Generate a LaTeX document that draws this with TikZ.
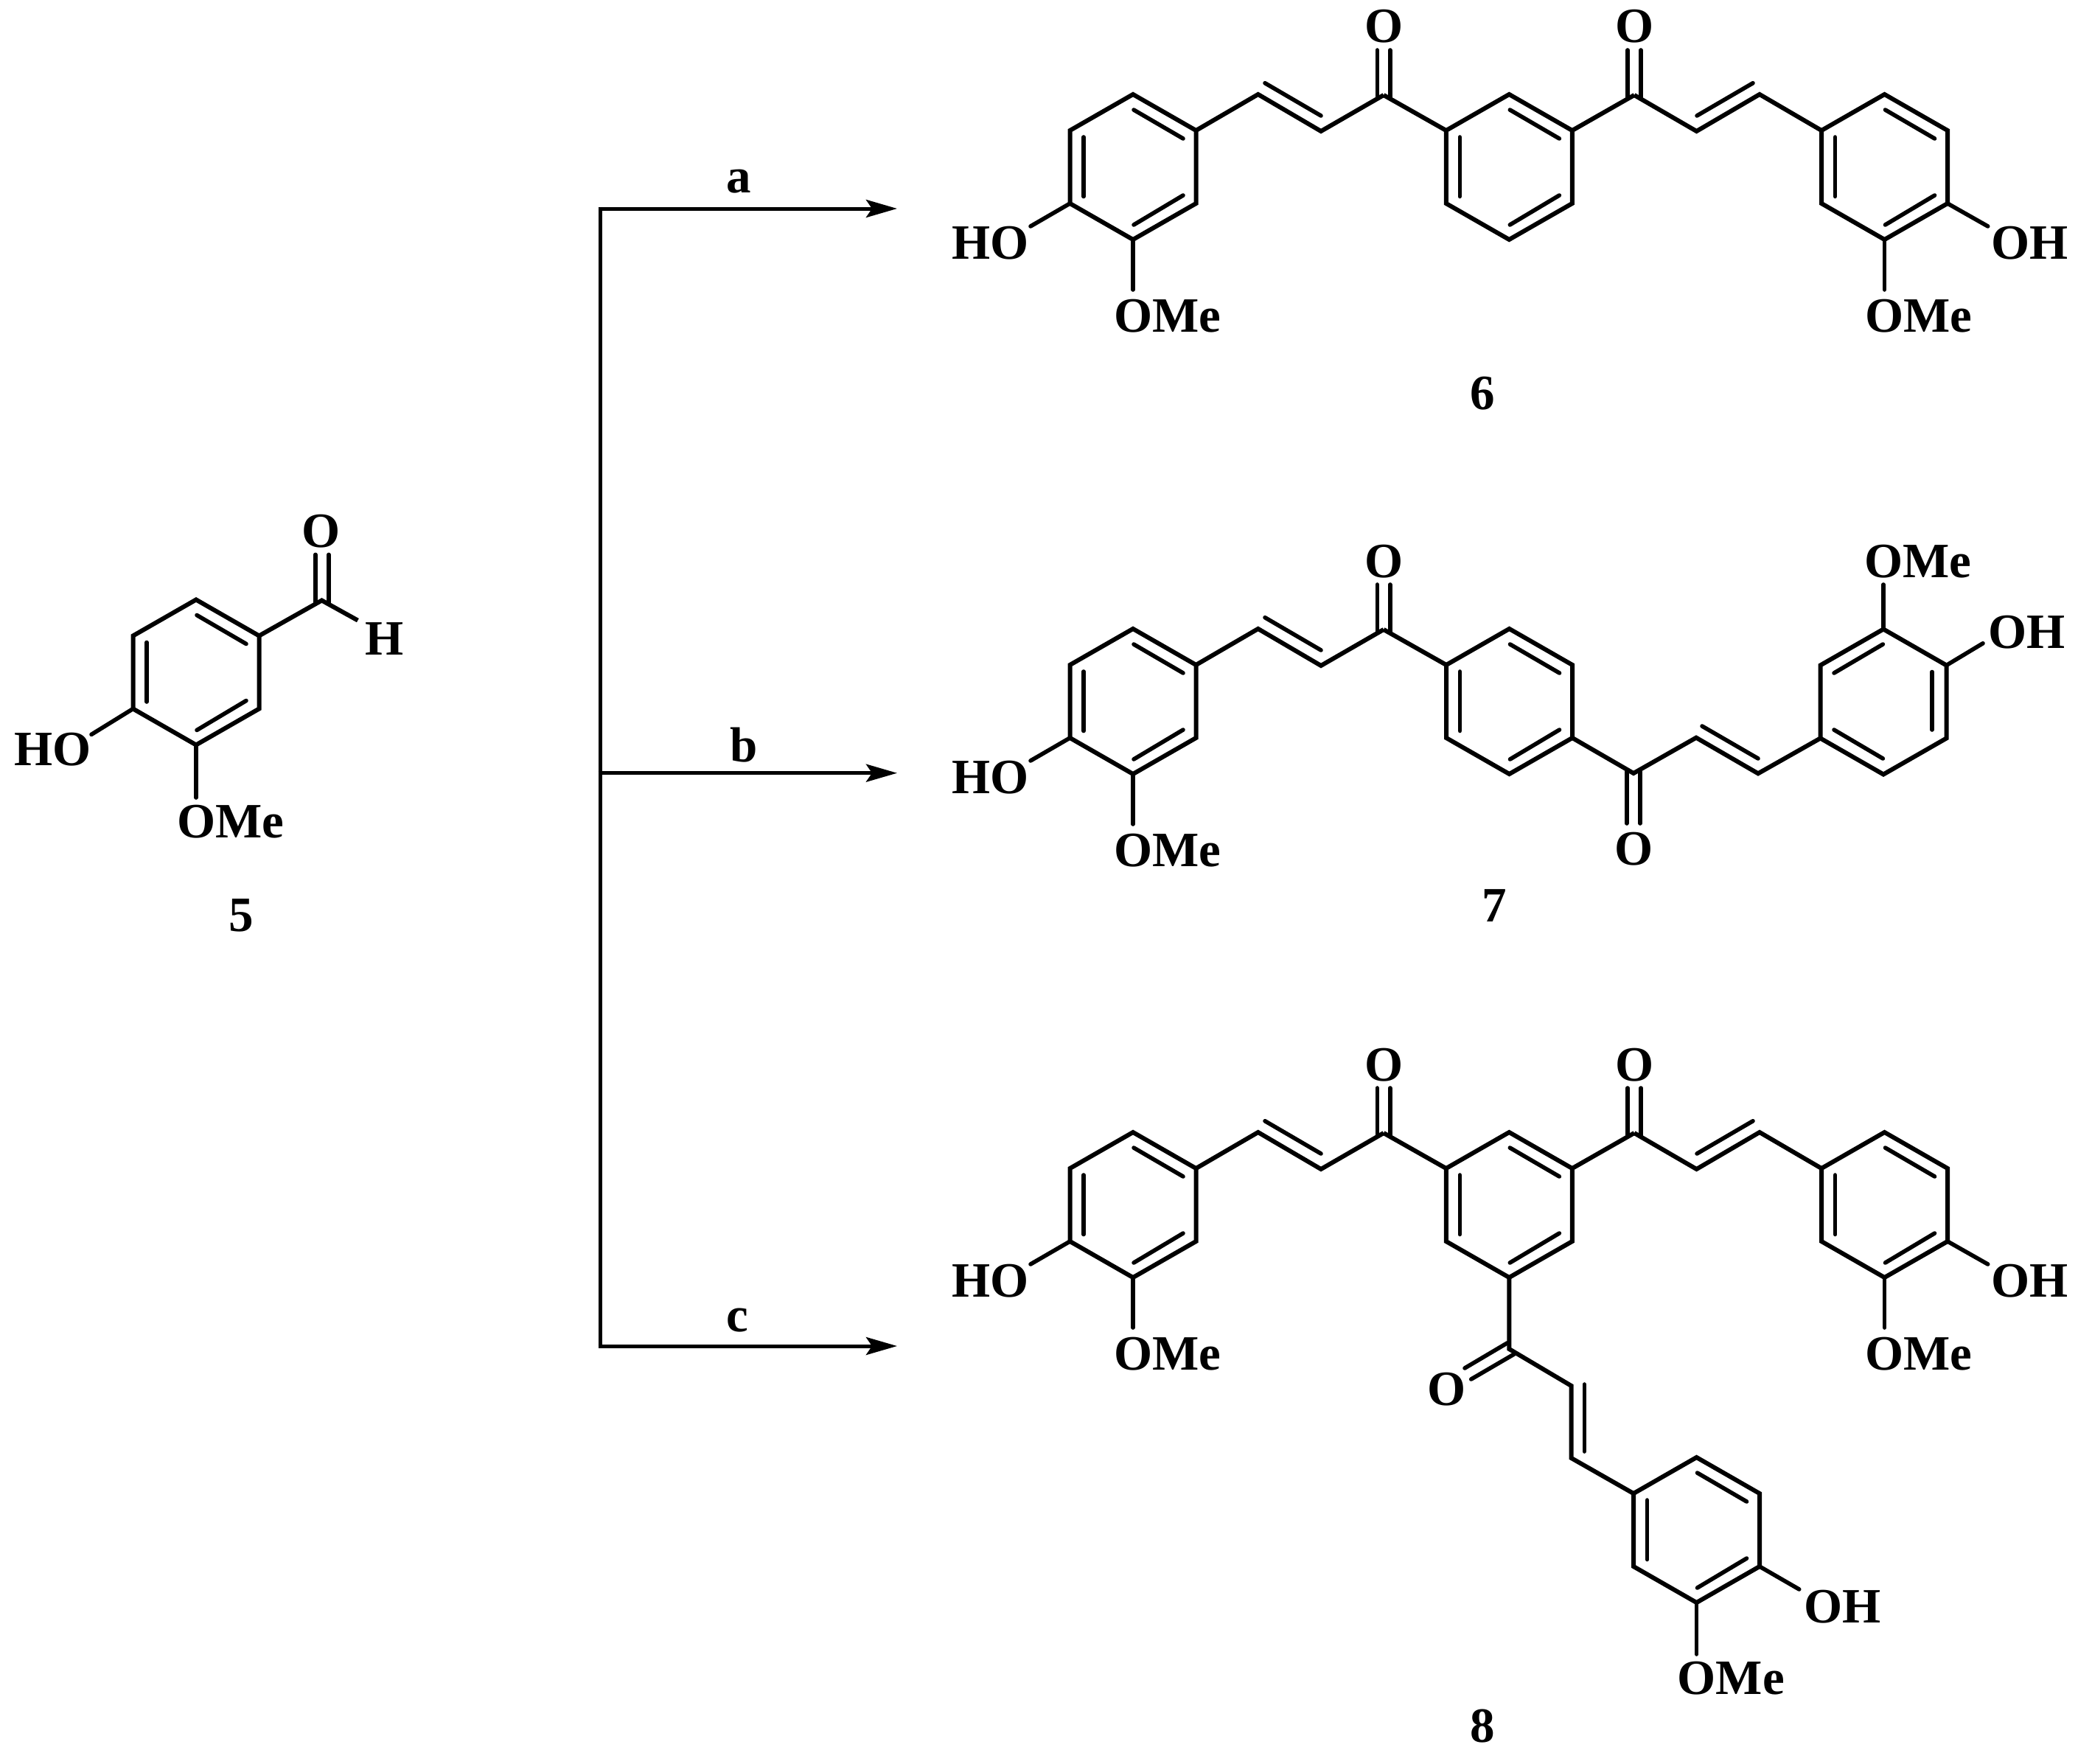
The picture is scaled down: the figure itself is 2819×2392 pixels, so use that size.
\documentclass[tikz,border=0pt]{standalone}
\usepackage{fontspec}
\setmainfont{Liberation Serif}
\usetikzlibrary{arrows.meta}
\tikzset{
  bond/.style={line width=3pt,line join=miter,miter limit=10},
  subbond/.style={line width=2.8pt,line cap=round},
  inbond/.style={line width=2.8pt,line cap=round},
  dblbond/.style={line width=2.8pt,line cap=round},
  route/.style={line width=2.5pt},
  routearrow/.style={line width=2.5pt,-{Stealth[length=21pt,width=12pt,inset=4pt]}},
  lbl/.style={inner sep=0pt,outer sep=0pt,anchor=base west,font=\fontsize{33.5}{40}\selectfont\bfseries},
  numlbl/.style={inner sep=0pt,outer sep=0pt,anchor=base,font=\fontsize{33.5}{40}\selectfont\bfseries}
}
% ring with inner bonds T-TR, left, B-BR
\newcommand{\arylA}[3]{\begin{scope}[shift={(#2,#3)}]
  \coordinate (#1T) at (0,-98.5);
  \coordinate (#1TR) at (85.5,-49.5);
  \coordinate (#1BR) at (85.5,49.5);
  \coordinate (#1B) at (0,98.5);
  \coordinate (#1BL) at (-85.5,49.5);
  \coordinate (#1TL) at (-85.5,-49.5);
  \coordinate (#1ia) at (1,-77.5);
  \coordinate (#1ib) at (68,-38.5);
  \coordinate (#1ic) at (-67,-40.5);
  \coordinate (#1id) at (-67,40);
  \coordinate (#1ie) at (1,78.5);
  \coordinate (#1if) at (68,38.5);
  \draw[bond] (#1T)--(#1TR)--(#1BR)--(#1B)--(#1BL)--(#1TL)--cycle;
  \draw[inbond] (#1ia)--(#1ib);
  \draw[inbond] (#1ic)--(#1id);
  \draw[inbond] (#1ie)--(#1if);
\end{scope}}
% mirrored ring: inner bonds T-TL, right, B-BL
\newcommand{\arylB}[3]{\begin{scope}[shift={(#2,#3)}]
  \coordinate (#1T) at (0,-98.5);
  \coordinate (#1TR) at (85.5,-49.5);
  \coordinate (#1BR) at (85.5,49.5);
  \coordinate (#1B) at (0,98.5);
  \coordinate (#1BL) at (-85.5,49.5);
  \coordinate (#1TL) at (-85.5,-49.5);
  \coordinate (#1ia) at (-0.7,-78);
  \coordinate (#1ib) at (-67,-39);
  \coordinate (#1ic) at (66,-40.5);
  \coordinate (#1id) at (66,38);
  \coordinate (#1ie) at (-0.7,77);
  \coordinate (#1if) at (-67,38);
  \draw[bond] (#1T)--(#1TR)--(#1BR)--(#1B)--(#1BL)--(#1TL)--cycle;
  \draw[inbond] (#1ia)--(#1ib);
  \draw[inbond] (#1ic)--(#1id);
  \draw[inbond] (#1ie)--(#1if);
\end{scope}}
% left arm: HO/OMe ring, vinyl, carbonyl; #2 is vertical shift
\newcommand{\leftarm}[2]{
  \arylA{#1r}{1537}{226.5+#2}
  \begin{scope}[yshift=-#2*0.5pt]
  \coordinate (#1v) at (1706.7,128);
  \coordinate (#1w) at (1792,178);
  \coordinate (#1c) at (1877,129);
  \coordinate (#1va) at (1716,112.7);
  \coordinate (#1vb) at (1792,157);
  \coordinate (#1oa) at (1868.3,68);
  \coordinate (#1ob) at (1868.3,133);
  \coordinate (#1oc) at (1885.7,68);
  \coordinate (#1od) at (1885.7,133);
  \coordinate (#1he) at (1398,307);
  \coordinate (#1me) at (1537,393);
  \draw[bond] (#1rTR)--(#1v)--(#1w)--(#1c);
  \draw[inbond] (#1va)--(#1vb);
  \draw[dblbond] (#1oa)--(#1ob);
  \draw[dblbond] (#1oc)--(#1od);
  \draw[subbond] (#1rBL)--(#1he);
  \draw[subbond] (#1rB)--(#1me);
  \node[lbl] (#1O) at (1851,58) {O};
  \node[lbl] (#1HO) at (1291,351) {HO};
  \node[lbl] (#1OMe) at (1511,450) {OMe};
  \end{scope}
}
% right arm for the compounds with a meta-substituted centre
\newcommand{\rightarm}[2]{
  \arylA{#1r}{2556.5}{226.5+#2}
  \begin{scope}[yshift=-#2*0.5pt]
  \coordinate (#1c) at (2217,129);
  \coordinate (#1w) at (2301.5,178);
  \coordinate (#1v) at (2387,128);
  \coordinate (#1va) at (2378,112.7);
  \coordinate (#1vb) at (2302,157);
  \coordinate (#1oa) at (2208,68);
  \coordinate (#1ob) at (2208,133);
  \coordinate (#1oc) at (2226,68);
  \coordinate (#1od) at (2226,133);
  \coordinate (#1he) at (2696.7,307);
  \coordinate (#1me) at (2556.5,393);
  \draw[bond] (#1c)--(#1w)--(#1v)--(#1rTL);
  \draw[inbond] (#1va)--(#1vb);
  \draw[dblbond] (#1oa)--(#1ob);
  \draw[dblbond] (#1oc)--(#1od);
  \draw[subbond] (#1rBR)--(#1he);
  \draw[subbond] (#1rB)--(#1me);
  \node[lbl] (#1O) at (2191,58) {O};
  \node[lbl] (#1OH) at (2701,351) {OH};
  \node[lbl] (#1OMe) at (2530,450) {OMe};
  \end{scope}
}
\begin{document}
\begin{tikzpicture}[x=0.5pt,y=-0.5pt]
\path[use as bounding box] (0,0) rectangle (2819,2392);

% ---- compound 5
\arylA{e}{266}{912}
\coordinate (ec) at (436.5,814.5);
\coordinate (eh) at (485.4,841.6);
\coordinate (eoa) at (427.7,752.4);
\coordinate (eob) at (427.7,819);
\coordinate (eoc) at (446,752.4);
\coordinate (eod) at (446,819);
\coordinate (ehe) at (124,996.4);
\coordinate (eme) at (266,1082);
\draw[bond] (eTR)--(ec)--(eh);
\draw[dblbond] (eoa)--(eob);
\draw[dblbond] (eoc)--(eod);
\draw[subbond] (eBL)--(ehe);
\draw[subbond] (eB)--(eme);
\node[lbl] (eO) at (409.7,742) {O};
\node[lbl] (eH) at (495.6,888) {H};
\node[lbl] (eHO) at (19.6,1038) {HO};
\node[lbl] (eOMe) at (240,1136) {OMe};
\node[numlbl] (n5) at (327,1263) {5};

% ---- routes
\coordinate (jtop) at (814,280.6);
\coordinate (jbot) at (814,1828.4);
\coordinate (as) at (811.6,283);
\coordinate (at) at (1217,283);
\coordinate (bs) at (811.6,1048.7);
\coordinate (bt) at (1217,1048.7);
\coordinate (cs) at (811.6,1826);
\coordinate (ct) at (1217,1826);
\draw[route] (jtop)--(jbot);
\draw[routearrow] (as)--(at);
\draw[routearrow] (bs)--(bt);
\draw[routearrow] (cs)--(ct);
\node[numlbl] (la) at (1002.5,262) {a};
\node[numlbl] (lb) at (1009,1033) {b};
\node[numlbl] (lc) at (1000.5,1806) {c};

% ---- compound 6
\arylA{f}{2047.3}{226.5}
\leftarm{fl}{0}
\rightarm{fr}{0}
\draw[bond] (flc)--(fTL);
\draw[bond] (fTR)--(frc);
\node[numlbl] (n6) at (2011,555) {6};

% ---- compound 7
\arylA{g}{2047.5}{951.5}
\leftarm{gl}{725}
\draw[bond] (glc)--(gTL);
\arylB{gr}{2555}{952}
\coordinate (gc) at (2216,1049);
\coordinate (gw) at (2301,1000.7);
\coordinate (gv) at (2385,1049.3);
\coordinate (gva) at (2309,985);
\coordinate (gvb) at (2385,1029);
\coordinate (goa) at (2206.7,1117);
\coordinate (gob) at (2206.7,1044);
\coordinate (goc) at (2225,1117);
\coordinate (god) at (2225,1044);
\coordinate (ghe) at (2690,872.7);
\coordinate (gme) at (2555,793);
\draw[bond] (gBR)--(gc)--(gw)--(gv)--(grBL);
\draw[inbond] (gva)--(gvb);
\draw[dblbond] (goa)--(gob);
\draw[dblbond] (goc)--(god);
\draw[subbond] (grTR)--(ghe);
\draw[subbond] (grT)--(gme);
\node[lbl] (gO) at (2190,1173) {O};
\node[lbl] (gOH) at (2697,879) {OH};
\node[lbl] (gOMe) at (2529,783) {OMe};
\node[numlbl] (n7) at (2027,1250) {7};

% ---- compound 8
\arylA{h}{2047.3}{1634.5}
\leftarm{hl}{1408}
\rightarm{hr}{1408}
\draw[bond] (hlc)--(hTL);
\draw[bond] (hTR)--(hrc);
\arylA{hb}{2301.5}{2075.5}
\coordinate (hc) at (2047.3,1830);
\coordinate (hv) at (2131.7,1880);
\coordinate (hw) at (2131.7,1978);
\coordinate (hva) at (2149.3,1878);
\coordinate (hvb) at (2149.3,1969);
\coordinate (hoa) at (2045,1821.7);
\coordinate (hob) at (1987,1856);
\coordinate (hoc) at (2054,1837);
\coordinate (hod) at (1995.7,1871);
\coordinate (hhe) at (2440.7,2156);
\coordinate (hme) at (2301.5,2244);
\draw[bond] (hB)--(hc)--(hv)--(hw)--(hbTL);
\draw[inbond] (hva)--(hvb);
\draw[dblbond] (hoa)--(hob);
\draw[dblbond] (hoc)--(hod);
\draw[subbond] (hbBR)--(hhe);
\draw[subbond] (hbB)--(hme);
\node[lbl] (hO) at (1936.5,1906) {O};
\node[lbl] (hOH) at (2447,2201) {OH};
\node[lbl] (hOMe) at (2275.7,2298) {OMe};
\node[numlbl] (n8) at (2011,2363) {8};
\end{tikzpicture}
\end{document}
